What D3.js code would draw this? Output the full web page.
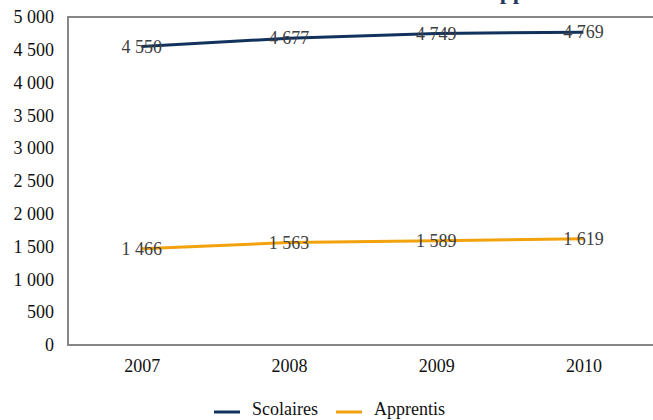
<!DOCTYPE html>
<html>
<head>
<meta charset="utf-8">
<script src="https://cdn.jsdelivr.net/npm/d3@7"></script>
<style>
  html, body { margin: 0; padding: 0; background: #fff; }
  svg { display: block; }
  svg text { font-family: "Liberation Serif", "DejaVu Serif", serif !important; }
</style>
</head>
<body>
<script>
const years = ["2007", "2008", "2009", "2010"];
const scolaires = [4550, 4677, 4749, 4769];
const apprentis = [1466, 1563, 1589, 1619];
const yTicks = [0, 500, 1000, 1500, 2000, 2500, 3000, 3500, 4000, 4500, 5000];
const seriesNames = ["Scolaires", "Apprentis"];
const seriesColors = ["#12325e", "#f2a20c"];
const titleText = "Évolution des effectifs scolaires et apprentis";

const W = 653, H = 420;
const svg = d3.select("body").append("svg").attr("width", W).attr("height", H)
  .attr("font-family", "Liberation Serif");

const mLeft = 68, mRight = 657, mTop = 17, mBottom = 345;
const x = d3.scalePoint().domain(years).range([mLeft, mRight]).padding(0.5);
const y = d3.scaleLinear().domain([0, 5000]).range([mBottom, mTop]);

const fmt = v => d3.format(",")(v).replace(/,/g, " ");

// title (mostly cut off at top, as in the reference)
svg.append("text")
  .attr("x", 150).attr("y", -0.3)
  .attr("textLength", 432).attr("lengthAdjust", "spacingAndGlyphs")
  .attr("font-size", 18).attr("font-weight", "bold")
  .attr("fill", "#1f3864")
  .text(titleText);

// plot frame
svg.append("rect")
  .attr("x", mLeft).attr("y", mTop)
  .attr("width", 700).attr("height", mBottom - mTop)
  .attr("fill", "none").attr("stroke", "#868686").attr("stroke-width", 2);

// y axis
const yAxis = d3.axisLeft(y).tickValues(yTicks).tickFormat(fmt).tickSize(0).tickPadding(14);
const gy = svg.append("g").attr("transform", `translate(${mLeft},0)`).call(yAxis)
  .attr("font-family", "Liberation Serif");
gy.select(".domain").remove();
gy.selectAll("text").attr("font-size", 18).attr("fill", "#111");

// x axis
const xAxis = d3.axisBottom(x).tickSize(0).tickPadding(14);
const gx = svg.append("g").attr("transform", `translate(0,${mBottom})`).call(xAxis)
  .attr("font-family", "Liberation Serif");
gx.select(".domain").remove();
gx.selectAll("text").attr("font-size", 18).attr("fill", "#111");

const line = d3.line().x((d, i) => x(years[i])).y(d => y(d));
const allSeries = [scolaires, apprentis];

allSeries.forEach((s, k) => {
  svg.append("path")
    .datum(s)
    .attr("d", line)
    .attr("fill", "none")
    .attr("stroke", seriesColors[k])
    .attr("stroke-width", 3);
});

allSeries.forEach((s, k) => {
  svg.selectAll(null).data(s).enter().append("text")
    .attr("x", (d, i) => x(years[i]))
    .attr("y", d => y(d))
    .attr("dy", "0.35em")
    .attr("text-anchor", "middle")
    .attr("font-size", 18)
    .attr("fill", "#404040")
    .text(d => fmt(d));
});

// legend
const legendX = [214, 336];
seriesNames.forEach((n, k) => {
  svg.append("line")
    .attr("x1", legendX[k]).attr("x2", legendX[k] + 26)
    .attr("y1", 412).attr("y2", 412)
    .attr("stroke", seriesColors[k]).attr("stroke-width", 3);
  svg.append("text")
    .attr("x", legendX[k] + 38).attr("y", 415)
    .attr("font-size", 18).attr("fill", "#111")
    .text(n);
});
</script>
</body>
</html>
